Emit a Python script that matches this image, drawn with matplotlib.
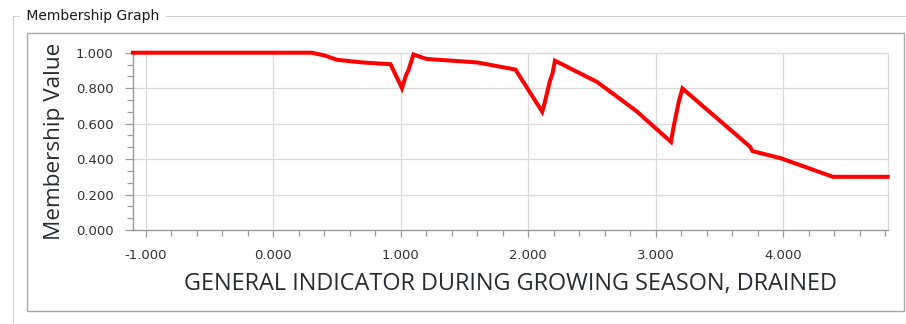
import matplotlib
matplotlib.use("Agg")
import matplotlib.pyplot as plt
from matplotlib.ticker import MultipleLocator, FormatStrFormatter
from matplotlib.patches import Rectangle
from matplotlib.lines import Line2D

# ---- data ----
x_vals = [-1.10, 0.30, 0.40, 0.50, 0.70, 0.92, 1.01, 1.04, 1.06, 1.10, 1.20, 1.60,
          1.90, 2.11, 2.13, 2.15, 2.17, 2.19, 2.21, 2.54, 2.72, 2.85, 3.12, 3.14,
          3.16, 3.18, 3.21, 3.74, 3.76, 3.98, 4.39, 4.82]
y_vals = [1.000, 1.000, 0.985, 0.960, 0.945, 0.935, 0.800, 0.870, 0.900, 0.990, 0.965, 0.945,
          0.905, 0.667, 0.720, 0.780, 0.840, 0.880, 0.955, 0.835, 0.740, 0.670, 0.497, 0.580,
          0.650, 0.720, 0.798, 0.470, 0.445, 0.405, 0.300, 0.300]
x_major_ticks = [-1.0, 0.0, 1.0, 2.0, 3.0, 4.0]
y_major_ticks = [0.0, 0.2, 0.4, 0.6, 0.8, 1.0]
x_label = "GENERAL INDICATOR DURING GROWING SEASON, DRAINED"
y_label = "Membership Value"
group_title = "Membership Graph"

W, H = 906, 324
fig = plt.figure(figsize=(W / 100, H / 100), dpi=100)
fig.patch.set_facecolor("white")

def fx(px):
    return px / W

def fy(py):
    return 1 - py / H

# inner panel
fig.add_artist(Rectangle((fx(27), fy(311)), fx(904) - fx(27), fy(33) - fy(311),
                         transform=fig.transFigure, facecolor="white",
                         edgecolor="#a8a8a8", lw=1, zorder=1))

# group box (thin rectangles so they render crisply)
gb_col = "#cfcfcf"
fig.add_artist(Rectangle((fx(13), fy(324)), fx(1.2), fy(16) - fy(324),
                         transform=fig.transFigure, facecolor=gb_col,
                         edgecolor="none", zorder=10))
fig.add_artist(Rectangle((fx(13), fy(17.2)), fx(906) - fx(13), fy(16) - fy(17.2),
                         transform=fig.transFigure, facecolor=gb_col,
                         edgecolor="none", zorder=10))
fig.text(fx(22), fy(16), " " + group_title + " ", fontsize=10, family="DejaVu Sans",
         color="#1a1a1a", va="center", ha="left", zorder=11,
         bbox=dict(boxstyle="square,pad=0.15", facecolor="white", edgecolor="none"))

ax = fig.add_axes([fx(133), fy(230), fx(887.7) - fx(133), fy(52.7) - fy(230)])
ax.set_zorder(5)
ax.set_facecolor("white")
ax.plot(x_vals, y_vals, color="#ff0000", lw=2.9, solid_joinstyle="miter", zorder=3, clip_on=False)

ax.set_xlim(-1.10, 4.82)
ax.set_ylim(0.0, 1.0)
ax.set_xticks(x_major_ticks)
ax.set_yticks(y_major_ticks)
ax.xaxis.set_minor_locator(MultipleLocator(0.2))
ax.yaxis.set_minor_locator(MultipleLocator(0.2 / 3))
ax.xaxis.set_major_formatter(FormatStrFormatter("%.3f"))
ax.yaxis.set_major_formatter(FormatStrFormatter("%.3f"))

ax.grid(True, which="major", color="#dadada", lw=0.9)
ax.set_axisbelow(True)
for s in ["top", "right"]:
    ax.spines[s].set_color("#dadada")
    ax.spines[s].set_linewidth(0.9)
for s in ["left", "bottom"]:
    ax.spines[s].set_color("#9a9a9a")
    ax.spines[s].set_linewidth(1.0)

ax.tick_params(axis="both", which="both", direction="out", colors="#9a9a9a",
               labelcolor="#333333", labelsize=9.5, width=0.9)
ax.tick_params(axis="y", which="major", length=6, pad=8)
ax.tick_params(axis="y", which="minor", length=4)
ax.tick_params(axis="x", which="major", length=5, pad=9)
ax.tick_params(axis="x", which="minor", length=4)

ax.set_xlabel(x_label, fontsize=16.9, family="Open Sans", color="#2a2a35", labelpad=7)
ax.set_ylabel(y_label, fontsize=16.2, family="Open Sans", color="#2a2a35", labelpad=8)

fig.savefig("out.png", dpi=100, facecolor="white")
